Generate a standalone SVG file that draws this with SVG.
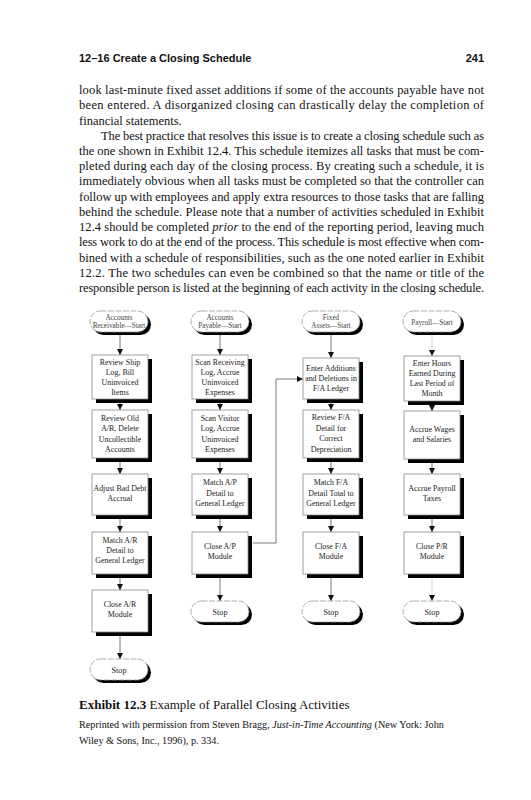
<svg xmlns="http://www.w3.org/2000/svg" width="531" height="800" viewBox="0 0 531 800">
<style>
.hdr{font-family:"Liberation Sans",Arial,sans-serif;font-weight:bold;font-size:11px;fill:#111}
.body{font-family:"Liberation Serif","Times New Roman",serif;font-size:12.5px;fill:#111}
.bx{fill:#fff;stroke:#888;stroke-width:0.8}
.sh{fill:#000}
.bt{font-family:"Liberation Serif","Times New Roman",serif;font-size:7.9px;fill:#222;text-anchor:middle}
.tt{font-family:"Liberation Serif","Times New Roman",serif;font-size:7.2px;fill:#444;text-anchor:middle}
.st{font-family:"Liberation Serif","Times New Roman",serif;font-size:8.2px;fill:#222;text-anchor:middle}
.tm{fill:#fff;stroke:#999;stroke-width:0.8;stroke-dasharray:6 1.5}
.cn{fill:none;stroke:#555;stroke-width:0.8}
.cf{fill:none;stroke:#bbb;stroke-width:0.6}
.cap{font-family:"Liberation Serif","Times New Roman",serif;font-size:13px;fill:#111}
.src{font-family:"Liberation Serif","Times New Roman",serif;font-size:10.2px;fill:#111}
</style>
<defs>
<marker id="ah" markerUnits="userSpaceOnUse" markerWidth="7" markerHeight="7" refX="6" refY="3" orient="auto">
<path d="M0,0 L6,3 L0,6 z" fill="#111"/>
</marker>
</defs>
<rect width="531" height="800" fill="#fff"/>

<g id="header">
<text class="hdr" x="79" y="62">12–16  Create a Closing Schedule</text>
<text class="hdr" x="484" y="62" text-anchor="end">241</text>
</g>

<g id="bodytext" class="body">
<text x="79" y="94" textLength="405">look last-minute fixed asset additions if some of the accounts payable have not</text>
<text x="79" y="109.2" textLength="405">been entered. A disorganized closing can drastically delay the completion of</text>
<text x="79" y="124.5">financial statements.</text>
<text x="101" y="139.7" textLength="383">The best practice that resolves this issue is to create a closing schedule such as</text>
<text x="79" y="154.9" textLength="405">the one shown in Exhibit 12.4. This schedule itemizes all tasks that must be com-</text>
<text x="79" y="170.2" textLength="405">pleted during each day of the closing process. By creating such a schedule, it is</text>
<text x="79" y="185.4" textLength="405">immediately obvious when all tasks must be completed so that the controller can</text>
<text x="79" y="200.6" textLength="405">follow up with employees and apply extra resources to those tasks that are falling</text>
<text x="79" y="215.8" textLength="405">behind the schedule. Please note that a number of activities scheduled in Exhibit</text>
<text x="79" y="231.1" textLength="405">12.4 should be completed <tspan font-style="italic">prior</tspan> to the end of the reporting period, leaving much</text>
<text x="79" y="246.3" textLength="405">less work to do at the end of the process. This schedule is most effective when com-</text>
<text x="79" y="261.5" textLength="405">bined with a schedule of responsibilities, such as the one noted earlier in Exhibit</text>
<text x="79" y="276.8" textLength="405">12.2. The two schedules can even be combined so that the name or title of the</text>
<text x="79" y="292" textLength="405">responsible person is listed at the beginning of each activity in the closing schedule.</text>
</g>

<g id="connectors">
<path class="cn" d="M120,333 V355" marker-end="url(#ah)"/>
<path class="cn" d="M120,403 V410" marker-end="url(#ah)"/>
<path class="cn" d="M120,462 V474" marker-end="url(#ah)"/>
<path class="cn" d="M120,519 V532" marker-end="url(#ah)"/>
<path class="cn" d="M120,578 V590" marker-end="url(#ah)"/>
<path class="cn" d="M120,636 V659" marker-end="url(#ah)"/>
<path class="cn" d="M220,333 V355" marker-end="url(#ah)"/>
<path class="cn" d="M220,403 V410" marker-end="url(#ah)"/>
<path class="cn" d="M220,462 V474" marker-end="url(#ah)"/>
<path class="cn" d="M220,519 V532" marker-end="url(#ah)"/>
<path class="cn" d="M220,578 V601" marker-end="url(#ah)"/>
<path class="cn" d="M331,333 V358" marker-end="url(#ah)"/>
<path class="cn" d="M331,403 V410" marker-end="url(#ah)"/>
<path class="cn" d="M331,462 V474" marker-end="url(#ah)"/>
<path class="cn" d="M331,519 V532" marker-end="url(#ah)"/>
<path class="cn" d="M331,578 V601" marker-end="url(#ah)"/>
<path class="cf" d="M432,333 V356" marker-end="url(#ah)"/>
<path class="cn" d="M432,405 V411" marker-end="url(#ah)"/>
<path class="cn" d="M432,463 V474" marker-end="url(#ah)"/>
<path class="cn" d="M432,519 V532" marker-end="url(#ah)"/>
<path class="cf" d="M432,578 V601" marker-end="url(#ah)"/>
<path class="cn" d="M253,543 H276 V379 H303" marker-end="url(#ah)"/>
</g>

<!-- Column 1: Accounts Receivable -->
<g id="ar-start">
<rect class="sh" x="93" y="314" width="58" height="21" rx="10.5"/>
<rect class="tm" x="90" y="311" width="58" height="21" rx="10.5"/>
<text class="tt" x="119" y="319.5">Accounts</text>
<text class="tt" x="119" y="328">Receivable—Start</text>
</g>
<g id="ar-1">
<rect class="sh" x="96" y="359" width="56" height="44"/>
<rect class="bx" x="92" y="355" width="56" height="44"/>
<text class="bt" x="120" y="365">Review Ship</text>
<text class="bt" x="120" y="375">Log, Bill</text>
<text class="bt" x="120" y="385">Uninvoiced</text>
<text class="bt" x="120" y="395">Items</text>
</g>
<g id="ar-2">
<rect class="sh" x="96" y="414" width="56" height="48"/>
<rect class="bx" x="92" y="410" width="56" height="48"/>
<text class="bt" x="120" y="421">Review Old</text>
<text class="bt" x="120" y="431">A/R, Delete</text>
<text class="bt" x="120" y="441.5">Uncollectible</text>
<text class="bt" x="120" y="452">Accounts</text>
</g>
<g id="ar-3">
<rect class="sh" x="96" y="478" width="56" height="41"/>
<rect class="bx" x="92" y="474" width="56" height="41"/>
<text class="bt" x="120" y="490.5">Adjust Bad Debt</text>
<text class="bt" x="120" y="501">Accrual</text>
</g>
<g id="ar-4">
<rect class="sh" x="96" y="536" width="56" height="42"/>
<rect class="bx" x="92" y="532" width="56" height="42"/>
<text class="bt" x="120" y="543">Match A/R</text>
<text class="bt" x="120" y="553">Detail to</text>
<text class="bt" x="120" y="563">General Ledger</text>
</g>
<g id="ar-5">
<rect class="sh" x="96" y="594" width="56" height="42"/>
<rect class="bx" x="92" y="590" width="56" height="42"/>
<text class="bt" x="120" y="607">Close A/R</text>
<text class="bt" x="120" y="617">Module</text>
</g>
<g id="ar-stop">
<rect class="sh" x="93" y="662" width="58" height="21" rx="10.5"/>
<rect class="tm" x="90" y="659" width="58" height="21" rx="10.5"/>
<text class="st" x="119" y="672.5">Stop</text>
</g>

<!-- Column 2: Accounts Payable -->
<g id="ap-start">
<rect class="sh" x="194" y="314" width="58" height="21" rx="10.5"/>
<rect class="tm" x="191" y="311" width="58" height="21" rx="10.5"/>
<text class="tt" x="220" y="319.5">Accounts</text>
<text class="tt" x="220" y="328">Payable—Start</text>
</g>
<g id="ap-1">
<rect class="sh" x="196" y="359" width="56" height="44"/>
<rect class="bx" x="192" y="355" width="56" height="44"/>
<text class="bt" x="220" y="365">Scan Receiving</text>
<text class="bt" x="220" y="375">Log, Accrue</text>
<text class="bt" x="220" y="385">Uninvoiced</text>
<text class="bt" x="220" y="395">Expenses</text>
</g>
<g id="ap-2">
<rect class="sh" x="196" y="414" width="56" height="48"/>
<rect class="bx" x="192" y="410" width="56" height="48"/>
<text class="bt" x="220" y="421">Scan Visitor</text>
<text class="bt" x="220" y="431">Log, Accrue</text>
<text class="bt" x="220" y="441.5">Uninvoiced</text>
<text class="bt" x="220" y="452">Expenses</text>
</g>
<g id="ap-3">
<rect class="sh" x="196" y="478" width="56" height="41"/>
<rect class="bx" x="192" y="474" width="56" height="41"/>
<text class="bt" x="220" y="485">Match A/P</text>
<text class="bt" x="220" y="495.5">Detail to</text>
<text class="bt" x="220" y="506">General Ledger</text>
</g>
<g id="ap-4">
<rect class="sh" x="196" y="536" width="56" height="42"/>
<rect class="bx" x="192" y="532" width="56" height="42"/>
<text class="bt" x="220" y="549">Close A/P</text>
<text class="bt" x="220" y="559">Module</text>
</g>
<g id="ap-stop">
<rect class="sh" x="194" y="604" width="58" height="21" rx="10.5"/>
<rect class="tm" x="191" y="601" width="58" height="21" rx="10.5"/>
<text class="st" x="220" y="614.5">Stop</text>
</g>

<!-- Column 3: Fixed Assets -->
<g id="fa-start">
<rect class="sh" x="305" y="314" width="58" height="21" rx="10.5"/>
<rect class="tm" x="302" y="311" width="58" height="21" rx="10.5"/>
<text class="tt" x="331" y="319.5">Fixed</text>
<text class="tt" x="331" y="328">Assets—Start</text>
</g>
<g id="fa-1">
<rect class="sh" x="307" y="362" width="56" height="41"/>
<rect class="bx" x="303" y="358" width="56" height="41"/>
<text class="bt" x="331" y="371">Enter Additions</text>
<text class="bt" x="331" y="381">and Deletions in</text>
<text class="bt" x="331" y="391">F/A Ledger</text>
</g>
<g id="fa-2">
<rect class="sh" x="307" y="414" width="56" height="48"/>
<rect class="bx" x="303" y="410" width="56" height="48"/>
<text class="bt" x="331" y="420">Review F/A</text>
<text class="bt" x="331" y="430.5">Detail for</text>
<text class="bt" x="331" y="441">Correct</text>
<text class="bt" x="331" y="451.5">Depreciation</text>
</g>
<g id="fa-3">
<rect class="sh" x="307" y="478" width="56" height="41"/>
<rect class="bx" x="303" y="474" width="56" height="41"/>
<text class="bt" x="331" y="485">Match F/A</text>
<text class="bt" x="331" y="495.5">Detail Total to</text>
<text class="bt" x="331" y="506">General Ledger</text>
</g>
<g id="fa-4">
<rect class="sh" x="307" y="536" width="56" height="42"/>
<rect class="bx" x="303" y="532" width="56" height="42"/>
<text class="bt" x="331" y="549">Close F/A</text>
<text class="bt" x="331" y="559">Module</text>
</g>
<g id="fa-stop">
<rect class="sh" x="305" y="604" width="58" height="21" rx="10.5"/>
<rect class="tm" x="302" y="601" width="58" height="21" rx="10.5"/>
<text class="st" x="331" y="614.5">Stop</text>
</g>

<!-- Column 4: Payroll -->
<g id="pr-start">
<rect class="sh" x="406" y="314" width="58" height="21" rx="10.5"/>
<rect class="tm" x="403" y="311" width="58" height="21" rx="10.5"/>
<text class="tt" x="432" y="324.5">Payroll—Start</text>
</g>
<g id="pr-1">
<rect class="sh" x="408" y="360" width="56" height="45"/>
<rect class="bx" x="404" y="356" width="56" height="45"/>
<text class="bt" x="432" y="366">Enter Hours</text>
<text class="bt" x="432" y="376">Earned During</text>
<text class="bt" x="432" y="386">Last Period of</text>
<text class="bt" x="432" y="396">Month</text>
</g>
<g id="pr-2">
<rect class="sh" x="408" y="415" width="56" height="48"/>
<rect class="bx" x="404" y="411" width="56" height="48"/>
<text class="bt" x="432" y="432">Accrue Wages</text>
<text class="bt" x="432" y="442">and Salaries</text>
</g>
<g id="pr-3">
<rect class="sh" x="408" y="478" width="56" height="41"/>
<rect class="bx" x="404" y="474" width="56" height="41"/>
<text class="bt" x="432" y="490.5">Accrue Payroll</text>
<text class="bt" x="432" y="501">Taxes</text>
</g>
<g id="pr-4">
<rect class="sh" x="408" y="536" width="56" height="42"/>
<rect class="bx" x="404" y="532" width="56" height="42"/>
<text class="bt" x="432" y="549">Close P/R</text>
<text class="bt" x="432" y="559">Module</text>
</g>
<g id="pr-stop">
<rect class="sh" x="406" y="604" width="58" height="21" rx="10.5"/>
<rect class="tm" x="403" y="601" width="58" height="21" rx="10.5"/>
<text class="st" x="432" y="614.5">Stop</text>
</g>

<g id="caption">
<text class="cap" x="79" y="709"><tspan font-weight="bold">Exhibit 12.3</tspan>  Example of Parallel Closing Activities</text>
<text class="src" x="79" y="728">Reprinted with permission from Steven Bragg, <tspan font-style="italic">Just-in-Time Accounting</tspan> (New York: John</text>
<text class="src" x="79" y="744">Wiley &amp; Sons, Inc., 1996), p. 334.</text>
</g>
</svg>
